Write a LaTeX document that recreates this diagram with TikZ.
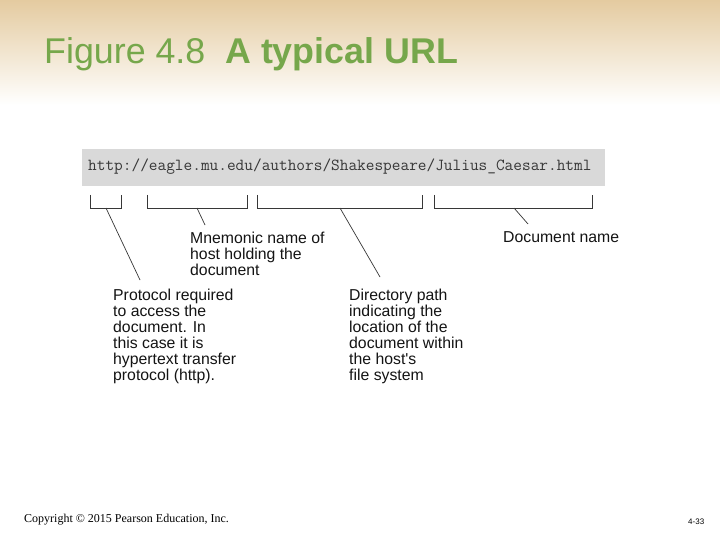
\documentclass[tikz,border=0pt]{standalone}
\usepackage{fontspec}
\setmainfont{Liberation Sans}
\newfontfamily\serifc{Liberation Serif}
\definecolor{tan}{RGB}{228,203,160}
\definecolor{titlegreen}{RGB}{118,167,75}
\definecolor{urlgray}{RGB}{217,217,217}
\definecolor{ink}{RGB}{20,20,20}
\tikzset{
  lbl/.style={anchor=base west, inner sep=0pt, align=left, text=ink,
    font=\fontsize{15.8}{16}\selectfont},
  brk/.style={draw=ink!85, line width=0.9pt},
  lead/.style={draw=ink!85, line width=0.7pt},
}
\begin{document}
\begin{tikzpicture}[x=1pt,y=-1pt]
\useasboundingbox (0,0) rectangle (720,540);
\fill[white] (0,0) rectangle (720,540);
\shade[top color=tan, bottom color=white] (0,0) rectangle (720,105);
% title
\node[anchor=base west, inner sep=0pt, text=titlegreen,
  font=\fontsize{35.8}{36}\selectfont] (title) at (44,64)
  {Figure 4.8\ \ \textbf{A typical URL}};
% URL box
\node[anchor=north west, fill=urlgray, minimum width=523pt, minimum height=37pt, inner sep=0pt] (box) at (82,149) {};
\node[anchor=base west, inner sep=0pt, text=ink!85,
  font=\ttfamily\fontsize{16.85}{17}\selectfont] (url) at (88,171)
  {http://eagle.mu.edu/authors/Shakespeare/Julius\_Caesar.html};
% brackets
\coordinate (b1) at (106,208);
\coordinate (b2) at (197,208);
\coordinate (b3) at (340,208);
\coordinate (b4) at (514,208);
\draw[brk] (90,195) -- (90,208) -- (121,208) -- (121,195);
\draw[brk] (147,195) -- (147,208) -- (247,208) -- (247,195);
\draw[brk] (257,195) -- (257,208) -- (422,208) -- (422,195);
\draw[brk] (434,195) -- (434,208) -- (592,208) -- (592,195);
% labels (anchor = baseline of last line)
\node[lbl] (mnem) at (190,275) {Mnemonic name of\\host holding the\\document};
\node[lbl] (docn) at (503,243) {Document name};
\node[lbl] (prot) at (113,380) {Protocol required\\to access the\\document. In\\this case it is\\hypertext transfer\\protocol (http).};
\node[lbl] (dir) at (349,380) {Directory path\\indicating the\\location of the\\document within\\the host\textquotesingle s\\file system};
% leaders
\coordinate (e1) at (140,280);
\coordinate (e2) at (205,225);
\coordinate (e3) at (380,277);
\coordinate (e4) at (528,224);
\draw[lead] (b1) -- (e1);
\draw[lead] (b2) -- (e2);
\draw[lead] (b3) -- (e3);
\draw[lead] (b4) -- (e4);
% footer
\node[anchor=base west, inner sep=0pt, font=\serifc\fontsize{12}{12}\selectfont] (copy) at (24,522) {Copyright \textcopyright{} 2015 Pearson Education, Inc.};
\node[anchor=base west, inner sep=0pt, font=\fontsize{8}{8}\selectfont] (page) at (688,524) {4-33};
\end{tikzpicture}
\end{document}
